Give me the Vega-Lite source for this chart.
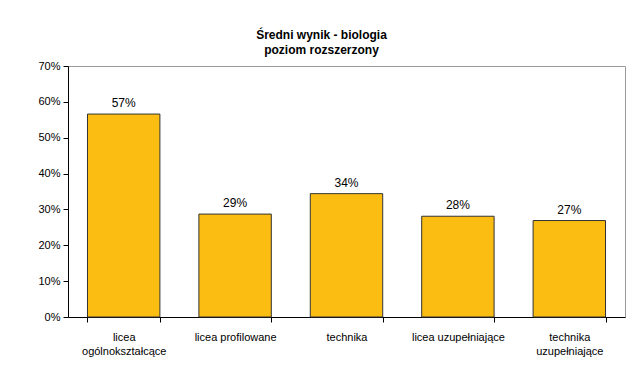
{
  "$schema": "https://vega.github.io/schema/vega-lite/v6.json",
  "width": 557,
  "height": 251,
  "autosize": {"type": "none"},
  "padding": {"left": 68, "top": 66, "right": 13, "bottom": 62},
  "background": "white",
  "title": {
    "text": ["Średni wynik  - biologia", "poziom rozszerzony"],
    "font": "Liberation Sans",
    "fontSize": 12,
    "fontWeight": "bold",
    "color": "black",
    "anchor": "middle",
    "dx": -25,
    "offset": 3,
    "lineHeight": 15
  },
  "config": {
    "view": {"stroke": "#999999", "strokeWidth": 1},
    "font": "Liberation Sans"
  },
  "data": {
    "values": [
      {"typ": "licea|ogólnokształcące", "wynik": 0.566, "etykieta": "57%"},
      {"typ": "licea profilowane", "wynik": 0.287, "etykieta": "29%"},
      {"typ": "technika", "wynik": 0.344, "etykieta": "34%"},
      {"typ": "licea uzupełniające", "wynik": 0.281, "etykieta": "28%"},
      {"typ": "technika|uzupełniające", "wynik": 0.269, "etykieta": "27%"}
    ]
  },
  "encoding": {
    "x": {
      "field": "typ",
      "type": "nominal",
      "sort": null,
      "scale": {"paddingInner": 0.35, "paddingOuter": 0.175},
      "axis": {
        "title": null,
        "labelAngle": 0,
        "labelExpr": "split(datum.label, '|')",
        "labelFont": "Liberation Sans",
        "labelFontSize": 11,
        "labelColor": "black",
        "labelPadding": 9,
        "labelLineHeight": 14,
        "tickBand": "extent",
        "tickColor": "black",
        "tickSize": 5,
        "domainColor": "black",
        "grid": false
      }
    },
    "y": {
      "field": "wynik",
      "type": "quantitative",
      "scale": {"domain": [0, 0.7], "nice": false},
      "axis": {
        "title": null,
        "format": ".0%",
        "values": [0, 0.1, 0.2, 0.3, 0.4, 0.5, 0.6, 0.7],
        "grid": false,
        "labelFont": "Liberation Sans",
        "labelFontSize": 11,
        "labelColor": "black",
        "labelPadding": 3,
        "tickColor": "black",
        "tickSize": 5,
        "domainColor": "black"
      }
    }
  },
  "layer": [
    {
      "mark": {"type": "bar", "color": "#FBBD12", "stroke": "#333333", "strokeWidth": 1}
    },
    {
      "mark": {"type": "text", "dy": -11, "font": "Liberation Sans", "fontSize": 12, "color": "black"},
      "encoding": {"text": {"field": "etykieta"}}
    }
  ]
}
